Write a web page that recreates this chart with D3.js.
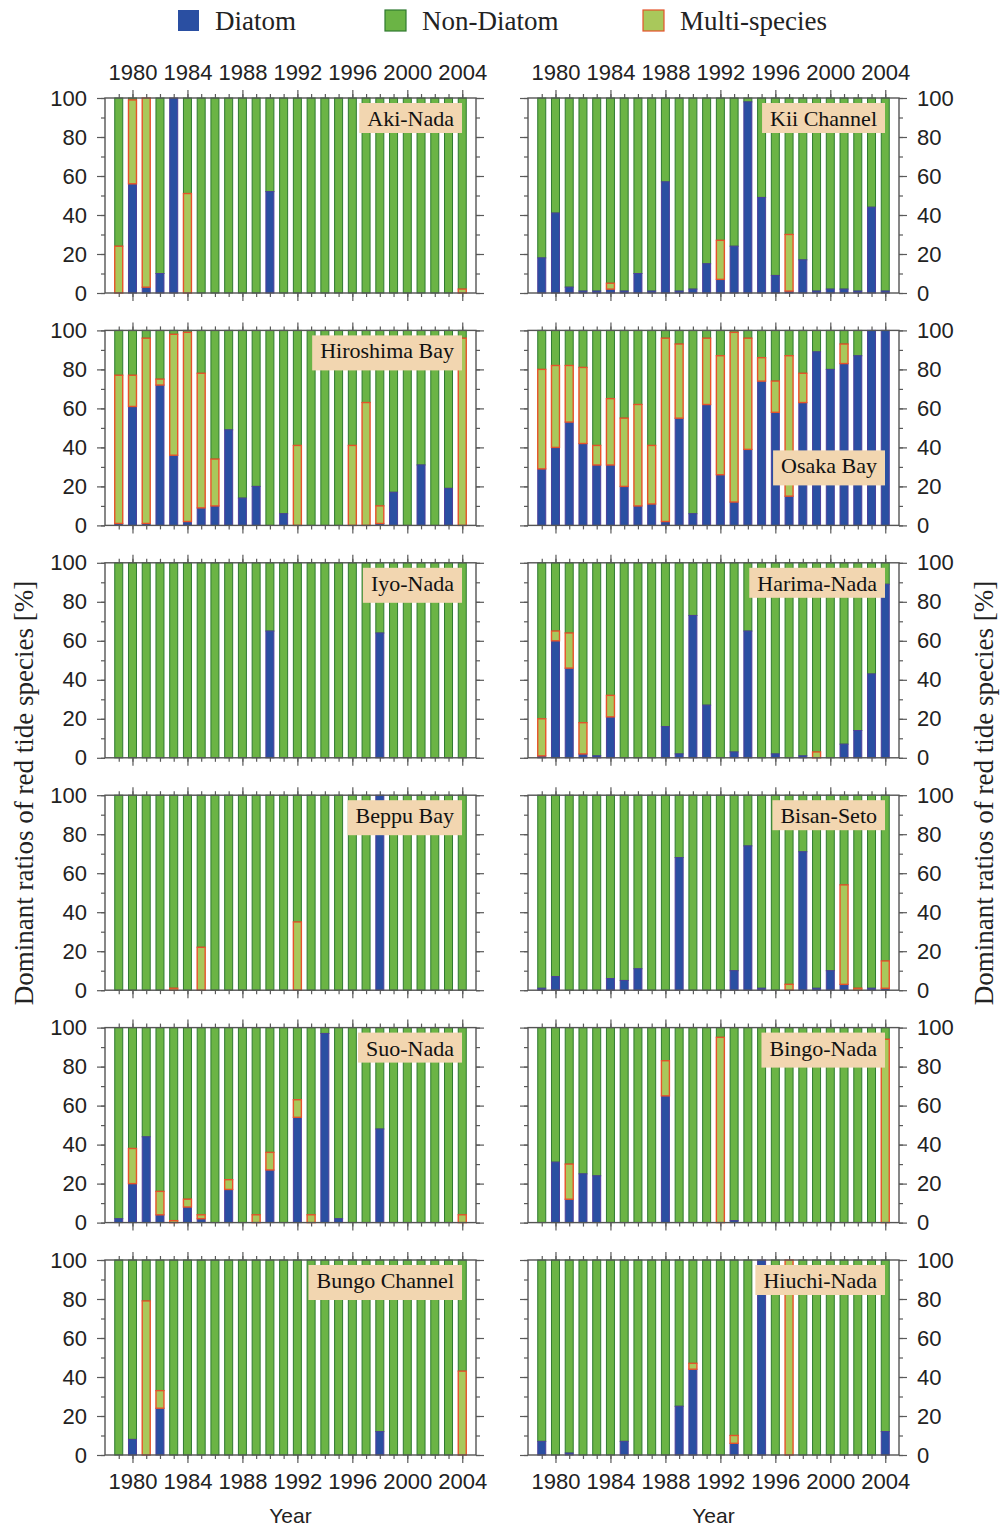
<!DOCTYPE html>
<html>
<head>
<meta charset="utf-8">
<script src="https://cdn.jsdelivr.net/npm/d3@7"></script>
<style>
  body { margin: 0; background: #fff; }
  svg { display: block; }
  .tick text { font-family: "Liberation Sans", Arial, sans-serif; font-size: 22px; fill: #222; }
</style>
</head>
<body>
<svg width="1000" height="1528"></svg>
<script>
// years on the x axis, one bar each
const years = [1979,1980,1981,1982,1983,1984,1985,1986,1987,1988,1989,1990,1991,
               1992,1993,1994,1995,1996,1997,1998,1999,2000,2001,2002,2003,2004];
const yearTicks = [1980,1984,1988,1992,1996,2000,2004];
const pctTicks = [0,20,40,60,80,100];
const pctMinor = [0,10,20,30,40,50,60,70,80,90,100];

// diatom and multi-species ratios [%]; the rest up to 100 is non-diatom
const akiDiatom   = [0,56,3,10,100,0,0,0,0,0,0,52,0,0,0,0,0,0,0,0,0,0,0,0,0,0];
const akiMulti    = [24,43,97,0,0,51,0,0,0,0,0,0,0,0,0,0,0,0,0,0,0,0,0,0,0,2];
const kiiDiatom   = [18,41,3,1,1,2,1,10,1,57,1,2,15,7,24,98,49,9,1,17,1,2,2,1,44,1];
const kiiMulti    = [0,0,0,0,0,3,0,0,0,0,0,0,0,20,0,0,0,0,29,0,0,0,0,0,0,0];
const hiroDiatom  = [1,61,1,72,36,2,9,10,49,14,20,0,6,0,0,0,0,0,0,1,17,0,31,0,19,0];
const hiroMulti   = [76,16,95,3,62,97,69,24,0,0,0,0,0,41,0,0,0,41,63,9,0,0,0,0,0,96];
const osakaDiatom = [29,40,53,42,31,31,20,10,11,2,55,6,62,26,12,39,74,58,15,63,89,80,83,87,100,100];
const osakaMulti  = [51,42,29,39,10,34,35,52,30,94,38,0,34,61,87,57,12,16,72,15,0,0,10,0,0,0];
const iyoDiatom   = [0,0,0,0,0,0,0,0,0,0,0,65,0,0,0,0,0,0,0,64,0,0,0,0,0,0];
const iyoMulti    = [0,0,0,0,0,0,0,0,0,0,0,0,0,0,0,0,0,0,0,0,0,0,0,0,0,0];
const harimaDiatom= [1,60,46,2,1,21,0,0,0,16,2,73,27,0,3,65,0,2,0,1,0,0,7,14,43,89];
const harimaMulti = [19,5,18,16,0,11,0,0,0,0,0,0,0,0,0,0,0,0,0,0,3,0,0,0,0,0];
const beppuDiatom = [0,0,0,0,0,0,0,0,0,0,0,0,0,0,0,0,0,0,0,100,0,0,0,0,0,0];
const beppuMulti  = [0,0,0,0,1,0,22,0,0,0,0,0,0,35,0,0,0,0,0,0,0,0,0,0,0,0];
const bisanDiatom = [1,7,0,0,0,6,5,11,0,0,68,0,0,0,10,74,1,0,0,71,1,10,3,0,1,1];
const bisanMulti  = [0,0,0,0,0,0,0,0,0,0,0,0,0,0,0,0,0,0,3,0,0,0,51,1,0,14];
const suoDiatom   = [2,20,44,4,0,8,2,0,17,0,0,27,0,54,0,97,2,0,0,48,0,0,0,0,0,0];
const suoMulti    = [0,18,0,12,1,4,2,0,5,0,4,9,0,9,4,0,0,0,0,0,0,0,0,0,0,4];
const bingoDiatom = [0,31,12,25,24,0,0,0,0,65,0,0,0,0,1,0,0,0,0,0,0,0,0,0,0,0];
const bingoMulti  = [0,0,18,0,0,0,0,0,0,18,0,0,0,95,0,0,0,0,0,0,0,0,0,0,0,94];
const bungoDiatom = [0,8,0,24,0,0,0,0,0,0,0,0,0,0,0,0,0,0,0,12,0,0,0,0,0,0];
const bungoMulti  = [0,0,79,9,0,0,0,0,0,0,0,0,0,0,0,0,0,0,0,0,0,0,0,0,0,43];
const hiuchiDiatom= [7,0,1,0,0,0,7,0,0,0,25,44,0,0,6,0,100,0,0,0,0,0,0,0,0,12];
const hiuchiMulti = [0,0,0,0,0,0,0,0,0,0,0,3,0,0,4,0,0,0,100,0,0,0,0,0,0,0];

const panels = [
  {name: 'Aki-Nada',      col: 0, row: 0, d: akiDiatom,    m: akiMulti},
  {name: 'Hiroshima Bay', col: 0, row: 1, d: hiroDiatom,   m: hiroMulti},
  {name: 'Iyo-Nada',      col: 0, row: 2, d: iyoDiatom,    m: iyoMulti},
  {name: 'Beppu Bay',     col: 0, row: 3, d: beppuDiatom,  m: beppuMulti},
  {name: 'Suo-Nada',      col: 0, row: 4, d: suoDiatom,    m: suoMulti},
  {name: 'Bungo Channel', col: 0, row: 5, d: bungoDiatom,  m: bungoMulti},
  {name: 'Kii Channel',   col: 1, row: 0, d: kiiDiatom,    m: kiiMulti},
  {name: 'Osaka Bay',     col: 1, row: 1, d: osakaDiatom,  m: osakaMulti, low: true},
  {name: 'Harima-Nada',   col: 1, row: 2, d: harimaDiatom, m: harimaMulti},
  {name: 'Bisan-Seto',    col: 1, row: 3, d: bisanDiatom,  m: bisanMulti},
  {name: 'Bingo-Nada',    col: 1, row: 4, d: bingoDiatom,  m: bingoMulti},
  {name: 'Hiuchi-Nada',   col: 1, row: 5, d: hiuchiDiatom, m: hiuchiMulti},
];

const fills   = {diatom: '#2a4fa2', multi: '#a9c85b', non: '#6bb445'};
const strokes = {diatom: '#4b3f9a', multi: '#e5532a', non: '#2f7a30'};
const strokeW = {diatom: 1, multi: 1.4, non: 1};
const serif = '"Liberation Serif", "Times New Roman", serif';
const sans = '"Liberation Sans", Arial, sans-serif';

const svg = d3.select('svg');
const colX = [105, 528];
const plotW = 371, plotH = 195;
const rowY0 = 98, rowStep = 232.4;
const barW = 8;

panels.forEach(p => {
  const left = colX[p.col];
  const top = rowY0 + p.row * rowStep;
  const x = d3.scaleLinear().domain([1978, 2005]).range([left, left + plotW]);
  const y = d3.scaleLinear().domain([0, 100]).range([top + plotH, top]);

  const rows = years.map((yr, i) => ({year: yr, diatom: p.d[i], multi: p.m[i], non: 100 - p.d[i] - p.m[i]}));
  const series = d3.stack().keys(['diatom', 'multi', 'non'])(rows);
  // draw green first so the multi-species outline stays on top
  const drawOrder = [series[2], series[0], series[1]];

  const g = svg.append('g');

  g.selectAll('g.layer').data(drawOrder).enter().append('g')
    .attr('class', 'layer')
    .attr('fill', s => fills[s.key])
    .attr('stroke', s => strokes[s.key])
    .attr('stroke-width', s => strokeW[s.key])
    .selectAll('rect').data(s => s.filter(d => d[1] - d[0] > 0)).enter()
    .append('rect')
      .attr('x', d => x(d.data.year) - barW / 2)
      .attr('width', barW)
      .attr('y', d => y(d[1]))
      .attr('height', d => y(d[0]) - y(d[1]));

  // axes: minor + major ticks on all four sides
  function addAxis(axis, tx, ty) {
    const a = g.append('g').attr('transform', `translate(${tx},${ty})`).call(axis);
    a.select('.domain').remove();
    a.selectAll('.tick line').attr('stroke', '#5a5a5a').attr('stroke-width', 1.2);
  }
  const showTop = p.row === 0, showBottom = p.row === 5;
  addAxis(d3.axisTop(x).tickValues(years).tickSize(4).tickFormat(''), 0, top);
  addAxis(d3.axisTop(x).tickValues(yearTicks).tickSize(8).tickPadding(10).tickFormat(showTop ? d3.format('d') : ''), 0, top);
  addAxis(d3.axisBottom(x).tickValues(years).tickSize(4).tickFormat(''), 0, top + plotH);
  addAxis(d3.axisBottom(x).tickValues(yearTicks).tickSize(8).tickPadding(10).tickFormat(showBottom ? d3.format('d') : ''), 0, top + plotH);
  addAxis(d3.axisLeft(y).tickValues(pctMinor).tickSize(4).tickFormat(''), left, 0);
  addAxis(d3.axisLeft(y).tickValues(pctTicks).tickSize(8).tickPadding(10).tickFormat(p.col === 0 ? d3.format('d') : ''), left, 0);
  addAxis(d3.axisRight(y).tickValues(pctMinor).tickSize(4).tickFormat(''), left + plotW, 0);
  addAxis(d3.axisRight(y).tickValues(pctTicks).tickSize(8).tickPadding(10).tickFormat(p.col === 1 ? d3.format('d') : ''), left + plotW, 0);

  g.append('rect')
    .attr('x', left).attr('y', top).attr('width', plotW).attr('height', plotH)
    .attr('fill', 'none').attr('stroke', '#555').attr('stroke-width', 1.4);

  // region label box
  const hasDesc = /[gpqy]/.test(p.name);
  const boxH = hasDesc ? 35 : 30;
  const boxTop = p.low ? top + plotH - 40 - boxH : top + 5;
  const lbl = g.append('g');
  const box = lbl.append('rect').attr('fill', '#f2d6b0');
  const t = lbl.append('text')
    .attr('font-family', serif).attr('font-size', 22).attr('fill', '#111')
    .attr('text-anchor', 'end')
    .attr('x', left + plotW - 14 - 8).attr('y', boxTop + 23)
    .text(p.name);
  const tw = t.node().getComputedTextLength();
  box.attr('x', left + plotW - 14 - tw - 16).attr('y', boxTop)
     .attr('width', tw + 16).attr('height', boxH);
});

// legend
const legendItems = [
  {key: 'diatom', label: 'Diatom',        x: 178},
  {key: 'non',    label: 'Non-Diatom',    x: 385},
  {key: 'multi',  label: 'Multi-species', x: 643},
];
const lg = svg.append('g');
legendItems.forEach(it => {
  lg.append('rect').attr('x', it.x).attr('y', 10).attr('width', 21).attr('height', 21)
    .attr('fill', fills[it.key]).attr('stroke', it.key === 'diatom' ? 'none' : strokes[it.key]).attr('stroke-width', 1.2);
  lg.append('text').attr('x', it.x + 37).attr('y', 30)
    .attr('font-family', serif).attr('font-size', 27).attr('fill', '#222')
    .text(it.label);
});

// axis titles
const yTitle = 'Dominant ratios of red tide species [%]';
[33, 993].forEach(px => {
  svg.append('text')
    .attr('transform', `translate(${px},793) rotate(-90)`)
    .attr('text-anchor', 'middle')
    .attr('font-family', serif).attr('font-size', 27).attr('fill', '#222')
    .text(yTitle);
});
colX.forEach(cx => {
  svg.append('text')
    .attr('x', cx + plotW / 2).attr('y', 1523)
    .attr('text-anchor', 'middle')
    .attr('font-family', sans).attr('font-size', 21).attr('fill', '#222')
    .text('Year');
});
</script>
</body>
</html>
